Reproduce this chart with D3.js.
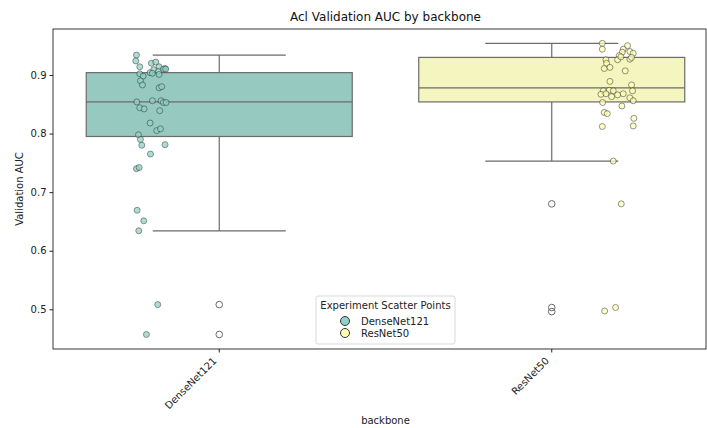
<!DOCTYPE html>
<html>
<head>
<meta charset="utf-8">
<script src="https://cdn.jsdelivr.net/npm/d3@7"></script>
<style>
  body { margin: 0; background: #fff; }
  text { font-family: 'DejaVu Sans', sans-serif; }
</style>
</head>
<body>
<div id="chart"></div>
<script>
// categories
var backbones = ['DenseNet121', 'ResNet50']

// box stats: [whiskerLow, q1, median, q3, whiskerHigh]
var boxStats = [
  [0.634, 0.795, 0.854, 0.904, 0.934],
  [0.753, 0.854, 0.878, 0.930, 0.954]
]
var fliers = [
  [0.508, 0.457],
  [0.680, 0.503, 0.496]
]

// experiment scatter points (AUC) and their strip offsets in category units
var denseAuc = [0.934, 0.924, 0.914, 0.920, 0.922, 0.914, 0.909, 0.911, 0.910, 0.910,
  0.904, 0.903, 0.906, 0.901, 0.902, 0.898, 0.890, 0.883, 0.878, 0.880,
  0.854, 0.856, 0.856, 0.853, 0.853, 0.844, 0.842, 0.839, 0.818, 0.805,
  0.808, 0.798, 0.790, 0.780, 0.781, 0.765, 0.740, 0.742, 0.669, 0.651,
  0.634, 0.508, 0.457]
var denseOffset = [-0.249, -0.251, -0.239, -0.204, -0.191, -0.181, -0.197, -0.163, -0.168, -0.161,
  -0.208, -0.201, -0.183, -0.181, -0.239, -0.229, -0.237, -0.231, -0.181, -0.173,
  -0.248, -0.201, -0.175, -0.168, -0.160, -0.239, -0.226, -0.179, -0.208, -0.188,
  -0.177, -0.243, -0.237, -0.233, -0.163, -0.207, -0.249, -0.241, -0.247, -0.227,
  -0.242, -0.185, -0.219]

var resAuc = [0.954, 0.944, 0.950, 0.944, 0.939, 0.940, 0.937, 0.933, 0.926, 0.931,
  0.927, 0.930, 0.926, 0.920, 0.911, 0.913, 0.907, 0.889, 0.883, 0.873,
  0.867, 0.874, 0.873, 0.868, 0.863, 0.866, 0.868, 0.873, 0.861, 0.856,
  0.853, 0.847, 0.836, 0.834, 0.826, 0.812, 0.813, 0.753, 0.680, 0.503,
  0.497]
var resOffset = [0.152, 0.152, 0.228, 0.215, 0.212, 0.235, 0.245, 0.203, 0.198, 0.208,
  0.235, 0.240, 0.163, 0.165, 0.158, 0.175, 0.221, 0.175, 0.240, 0.155,
  0.148, 0.173, 0.185, 0.163, 0.180, 0.198, 0.215, 0.243, 0.235, 0.245,
  0.153, 0.211, 0.158, 0.167, 0.247, 0.152, 0.245, 0.185, 0.209, 0.192,
  0.159]

var yTicks = [0.5, 0.6, 0.7, 0.8, 0.9]

var boxFill = ['#96c9c0', '#f5f5bf']
var pointFill = ['#8dd3c7', '#ffffb3']

var margin = { top: 29, left: 53, right: 1, bottom: 79 }
var width = 707 - margin.left - margin.right
var height = 428 - margin.top - margin.bottom

var svg = d3
  .select('#chart')
  .append('svg')
  .attr('width', width + margin.left + margin.right)
  .attr('height', height + margin.top + margin.bottom)
  .append('g')
  .attr('transform', 'translate(' + margin.left + ',' + margin.top + ')')

var xScale = d3.scaleLinear().domain([-0.5, 1.5]).range([0, 665])
var yScale = d3.scaleLinear().domain([0.4322, 0.9785]).range([height, 0])

var halfBox = xScale(0.4) - xScale(0)
var capHalf = halfBox / 2
var lineColor = '#6b6b6b'

// boxes
boxStats.forEach((d, i) => {
  var g = svg.append('g').attr('class', 'box')
  var cx = xScale(i)

  // whiskers
  g.selectAll('.whisker')
    .data([[d[0], d[1]], [d[3], d[4]]])
    .enter()
    .append('line')
    .attr('x1', cx)
    .attr('x2', cx)
    .attr('y1', w => yScale(w[0]))
    .attr('y2', w => yScale(w[1]))
    .attr('stroke', lineColor)
    .attr('stroke-width', 1.2)

  // caps
  g.selectAll('.cap')
    .data([d[0], d[4]])
    .enter()
    .append('line')
    .attr('x1', cx - capHalf)
    .attr('x2', cx + capHalf)
    .attr('y1', v => yScale(v))
    .attr('y2', v => yScale(v))
    .attr('stroke', lineColor)
    .attr('stroke-width', 1.2)

  g.append('rect')
    .attr('x', cx - halfBox)
    .attr('width', halfBox * 2)
    .attr('y', yScale(d[3]))
    .attr('height', yScale(d[1]) - yScale(d[3]))
    .attr('fill', boxFill[i])
    .attr('stroke', lineColor)
    .attr('stroke-width', 1.2)

  // median
  g.append('line')
    .attr('x1', cx - halfBox)
    .attr('x2', cx + halfBox)
    .attr('y1', yScale(d[2]))
    .attr('y2', yScale(d[2]))
    .attr('stroke', lineColor)
    .attr('stroke-width', 1.2)

  g.selectAll('.flier')
    .data(fliers[i])
    .enter()
    .append('circle')
    .attr('cx', cx)
    .attr('cy', v => yScale(v))
    .attr('r', 3.3)
    .attr('fill', 'none')
    .attr('stroke', lineColor)
    .attr('stroke-width', 1)
})

// scatter points
var groups = [
  { auc: denseAuc, offset: denseOffset },
  { auc: resAuc, offset: resOffset }
]

groups.forEach((g, i) => {
  svg
    .selectAll('.pt-' + i)
    .data(g.auc)
    .enter()
    .append('circle')
    .attr('class', 'pt-' + i)
    .attr('cx', (d, j) => xScale(i + g.offset[j]))
    .attr('cy', d => yScale(d))
    .attr('r', 3)
    .attr('fill', pointFill[i])
    .attr('stroke', '#333')
    .attr('stroke-width', 0.7)
    .attr('opacity', 0.75)
})

// frame
svg
  .append('rect')
  .attr('x', 0)
  .attr('y', 0)
  .attr('width', width)
  .attr('height', height)
  .attr('fill', 'none')
  .attr('stroke', '#222')
  .attr('stroke-width', 0.9)

// y axis
var yAxis = svg
  .append('g')
  .call(d3.axisLeft(yScale).tickValues(yTicks).tickFormat(d3.format('.1f')).tickSize(3.5).tickPadding(3))
yAxis.select('.domain').remove()
yAxis.selectAll('text').attr('font-size', 10).attr('fill', '#222')
yAxis.selectAll('line').attr('stroke', '#222')

// x axis
var xAxis = svg.append('g').attr('transform', 'translate(0,' + height + ')')
xAxis
  .selectAll('line')
  .data(backbones)
  .enter()
  .append('line')
  .attr('x1', (d, i) => xScale(i))
  .attr('x2', (d, i) => xScale(i))
  .attr('y1', 0)
  .attr('y2', 3.5)
  .attr('stroke', '#222')

xAxis
  .selectAll('text')
  .data(backbones)
  .enter()
  .append('text')
  .text(d => d)
  .attr('font-size', 10)
  .attr('fill', '#222')
  .attr('text-anchor', 'end')
  .attr('transform', (d, i) => `translate(${xScale(i) - 2},${12.5}) rotate(-45)`)

// titles
svg
  .append('text')
  .text('Acl Validation AUC by backbone')
  .attr('x', xScale(0.5))
  .attr('y', -8)
  .attr('text-anchor', 'middle')
  .attr('font-size', 12)
  .attr('fill', '#111')

svg
  .append('text')
  .text('backbone')
  .attr('x', xScale(0.5))
  .attr('y', height + 75)
  .attr('text-anchor', 'middle')
  .attr('font-size', 10)
  .attr('fill', '#222')

svg
  .append('text')
  .text('Validation AUC')
  .attr('transform', `translate(${-30},${height / 2}) rotate(-90)`)
  .attr('text-anchor', 'middle')
  .attr('font-size', 10)
  .attr('fill', '#222')

// legend
var legend = svg.append('g').attr('transform', 'translate(' + (316 - margin.left) + ',' + (296 - margin.top) + ')')

legend
  .append('rect')
  .attr('width', 139)
  .attr('height', 48)
  .attr('rx', 2)
  .attr('fill', 'white')
  .attr('fill-opacity', 0.85)
  .attr('stroke', '#d0d0d0')
  .attr('stroke-width', 0.8)

legend
  .append('text')
  .text('Experiment Scatter Points')
  .attr('x', 69.5)
  .attr('y', 13)
  .attr('text-anchor', 'middle')
  .attr('font-size', 10)
  .attr('fill', '#222')

legend
  .selectAll('.legend-item')
  .data(backbones)
  .enter()
  .append('circle')
  .attr('cx', 29)
  .attr('cy', (d, i) => 25 + i * 12)
  .attr('r', 4.5)
  .attr('fill', (d, i) => pointFill[i])
  .attr('stroke', '#333')
  .attr('stroke-width', 1)

legend
  .selectAll('.legend-label')
  .data(backbones)
  .enter()
  .append('text')
  .text(d => d)
  .attr('x', 45)
  .attr('y', (d, i) => 28.5 + i * 12)
  .attr('font-size', 10)
  .attr('fill', '#222')
</script>
</body>
</html>
